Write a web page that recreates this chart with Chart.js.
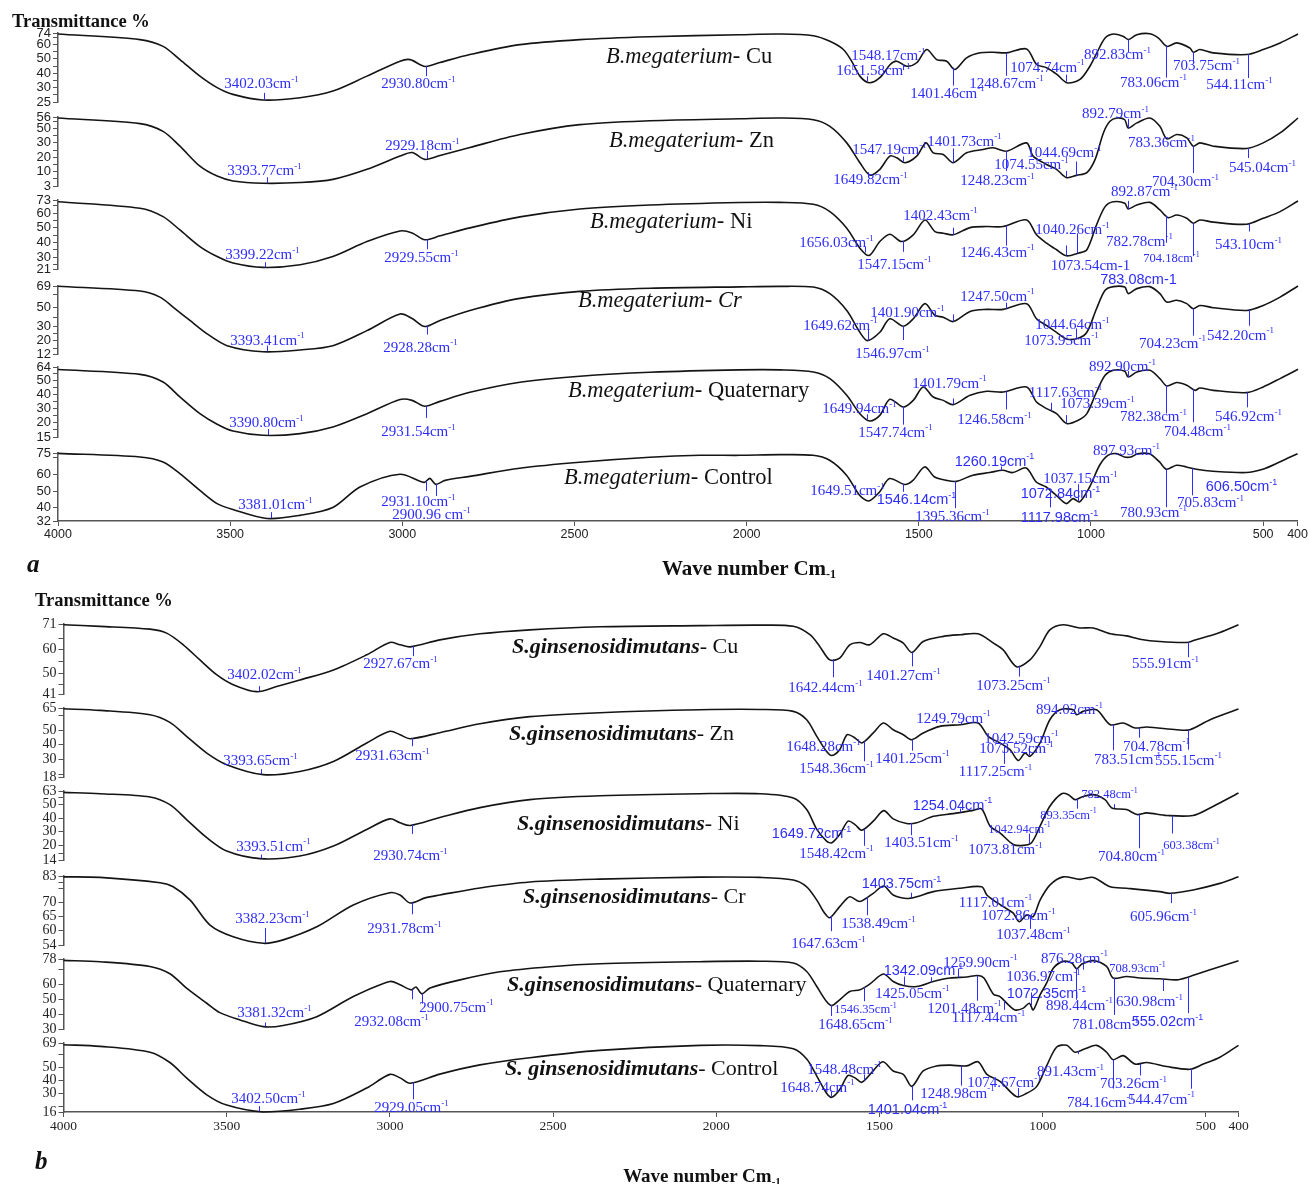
<!DOCTYPE html>
<html>
<head>
<meta charset="utf-8">
<script src="https://cdn.jsdelivr.net/npm/chart.js@4.4.1/dist/chart.umd.min.js"></script>
<style>
  body { margin: 0; width: 1309px; height: 1184px; background: #fff; position: relative; overflow: hidden; }
  canvas { position: absolute; left: 0; }
  .t { position: absolute; white-space: nowrap; font-family: 'Liberation Serif', 'Times New Roman', serif; color: #111; line-height: 1; }
</style>
</head>
<body>
<script>
// ---- panel a : B.megaterium, [wave number, transmittance] ----
const aCu = [[4000,67.3],[3762,63.4],[3695,58.7],[3646,49.5],[3588,38.0],[3538,30.0],[3492,25.3],[3405,21.4],[3297,23.0],[3202,27.6],[3103,38.0],[3007,48.4],[2978,49.5],[2934,44.7],[2891,47.5],[2804,53.0],[2659,59.9],[2485,63.4],[2281,65.4],[2020,66.8],[1904,67.3],[1807,66.1],[1759,62.2],[1720,56.5],[1696,48.4],[1672,38.0],[1645,33.4],[1614,36.9],[1584,46.1],[1565,48.4],[1536,44.9],[1507,47.3],[1478,56.5],[1449,49.5],[1420,48.4],[1396,42.6],[1362,50.7],[1323,54.2],[1285,54.6],[1246,54.2],[1188,56.9],[1159,46.1],[1130,43.8],[1100,39.2],[1071,33.4],[1033,35.7],[1004,44.9],[984,54.2],[960,64.5],[936,67.3],[907,65.6],[892,63.4],[868,66.8],[830,67.5],[805,64.5],[781,58.7],[752,61.1],[714,57.6],[704,54.6],[685,56.5],[646,54.2],[549,53.0],[501,56.5],[452,61.1],[400,67.3]];
const aZn = [[4000,47.3],[3762,43.4],[3695,38.0],[3646,27.7],[3588,13.8],[3538,6.9],[3492,3.5],[3405,1.9],[3297,2.4],[3202,4.6],[3103,11.6],[3007,20.8],[2972,23.3],[2935,18.5],[2891,21.2],[2804,26.8],[2659,35.8],[2485,42.7],[2281,45.4],[2020,46.8],[1904,47.3],[1807,46.1],[1759,41.5],[1710,30.0],[1672,16.2],[1643,7.6],[1614,11.6],[1585,20.8],[1565,19.6],[1541,16.2],[1507,20.8],[1480,30.0],[1459,23.1],[1430,21.9],[1401,16.2],[1362,23.1],[1314,25.4],[1285,26.6],[1246,24.2],[1188,30.0],[1169,20.8],[1130,15.0],[1101,11.6],[1072,5.8],[1043,7.4],[1013,9.3],[989,18.5],[965,36.9],[946,45.0],[926,47.3],[903,46.1],[893,40.4],[868,43.9],[830,47.3],[801,41.5],[781,32.8],[752,35.8],[723,33.5],[704,27.7],[685,30.0],[646,27.7],[549,26.1],[501,30.0],[452,36.9],[400,47.3]];
const aNi = [[4000,67.8],[3762,63.4],[3695,57.7],[3646,48.6],[3588,37.3],[3538,30.5],[3492,26.1],[3405,23.1],[3297,24.9],[3202,30.5],[3103,40.7],[3007,47.9],[2972,46.6],[2935,41.9],[2891,44.6],[2804,50.0],[2659,57.5],[2485,62.9],[2281,65.6],[2020,67.3],[1904,67.4],[1807,66.1],[1759,61.1],[1710,49.8],[1672,36.2],[1645,31.2],[1614,40.7],[1585,45.7],[1551,40.7],[1517,45.3],[1483,55.4],[1454,47.5],[1430,46.4],[1401,45.3],[1352,50.2],[1304,50.9],[1256,50.9],[1188,55.4],[1159,45.3],[1130,39.6],[1101,35.1],[1072,31.0],[1038,32.8],[1013,35.1],[985,52.0],[960,64.5],[936,67.8],[903,66.8],[893,62.9],[868,65.6],[830,67.4],[801,62.2],[777,57.0],[752,58.8],[723,56.6],[704,53.2],[685,55.4],[646,53.9],[549,52.5],[501,56.6],[452,61.1],[400,68.3]];
const aCr = [[4000,68.8],[3762,64.8],[3704,59.7],[3666,51.3],[3617,40.1],[3567,28.9],[3509,19.0],[3405,13.9],[3297,15.4],[3202,19.0],[3103,31.6],[3007,45.5],[2972,41.8],[2935,35.0],[2891,40.1],[2804,48.5],[2659,58.6],[2485,64.5],[2281,67.1],[2020,68.3],[1904,68.7],[1807,68.2],[1759,62.6],[1710,48.5],[1672,30.2],[1650,23.2],[1614,30.2],[1585,41.5],[1546,35.3],[1517,41.5],[1483,54.2],[1454,44.3],[1430,42.9],[1401,39.2],[1352,47.7],[1304,49.4],[1256,49.4],[1188,54.2],[1159,41.5],[1130,35.9],[1101,30.2],[1072,24.6],[1038,25.2],[1013,30.2],[985,49.9],[960,65.4],[936,68.5],[903,68.2],[893,62.6],[868,66.8],[830,68.5],[801,62.6],[781,55.5],[752,57.0],[723,54.2],[704,49.9],[685,52.7],[646,50.8],[549,48.5],[501,52.7],[452,59.7],[400,69.0]];
const aQuat = [[4000,57.7],[3762,54.3],[3695,48.9],[3646,38.3],[3588,26.5],[3538,19.0],[3492,14.2],[3405,11.2],[3297,12.4],[3202,17.1],[3103,26.5],[3007,36.5],[2972,35.9],[2935,31.7],[2891,35.2],[2804,41.6],[2659,48.7],[2485,53.0],[2281,55.8],[2020,57.5],[1904,57.5],[1807,56.0],[1759,51.3],[1710,39.5],[1672,26.5],[1643,21.3],[1614,25.3],[1585,36.7],[1546,31.2],[1517,35.9],[1488,45.4],[1459,38.3],[1430,35.9],[1401,32.9],[1352,39.5],[1304,42.3],[1256,41.8],[1188,45.4],[1159,34.7],[1130,30.1],[1101,26.5],[1072,19.5],[1038,21.8],[1013,26.5],[985,41.8],[960,53.6],[936,57.2],[903,56.5],[893,52.4],[868,56.0],[830,57.2],[801,51.3],[781,46.1],[752,48.5],[723,46.6],[699,43.0],[685,44.6],[646,43.0],[549,41.4],[501,45.4],[452,51.3],[400,57.9]];
const aCtrl = [[4000,72.8],[3762,70.6],[3695,67.6],[3646,60.6],[3588,50.5],[3538,42.5],[3492,38.9],[3393,33.5],[3297,35.4],[3202,40.1],[3123,52.5],[3007,60.2],[2937,55.3],[2920,57.7],[2903,54.1],[2876,56.5],[2804,58.9],[2659,63.8],[2485,67.4],[2281,70.4],[2136,71.6],[2020,71.6],[1904,72.0],[1807,71.6],[1759,68.6],[1710,59.6],[1672,47.5],[1645,44.1],[1614,49.5],[1585,57.6],[1541,54.0],[1517,56.5],[1483,64.6],[1454,58.5],[1420,56.5],[1391,55.9],[1343,59.6],[1294,61.2],[1256,62.6],[1227,61.2],[1188,64.0],[1159,55.5],[1130,52.5],[1101,47.5],[1072,42.5],[1052,45.5],[1033,43.5],[1004,52.5],[975,65.6],[951,71.6],[926,72.6],[903,70.6],[884,70.6],[864,72.6],[830,72.6],[801,67.6],[781,63.2],[752,65.6],[723,64.6],[694,63.2],[646,62.0],[549,61.2],[501,63.2],[452,67.6],[400,72.6]];

// ---- panel b : S.ginsenosidimutans ----
const bCu = [[4000,70.7],[3888,70.0],[3735,68.8],[3684,67.1],[3633,62.1],[3582,55.6],[3531,49.3],[3480,45.0],[3408,42.0],[3347,44.2],[3276,47.0],[3173,51.3],[3071,57.8],[3000,63.1],[2969,62.1],[2938,61.2],[2847,64.2],[2724,66.8],[2571,68.5],[2357,69.8],[2050,70.3],[1866,70.5],[1764,70.0],[1713,66.4],[1683,61.4],[1652,55.6],[1622,56.4],[1591,62.1],[1560,63.1],[1530,62.1],[1488,66.8],[1458,65.0],[1427,62.8],[1401,58.8],[1366,63.5],[1304,65.7],[1253,66.4],[1198,66.8],[1151,62.8],[1121,59.9],[1080,52.7],[1039,55.6],[1008,61.4],[978,68.5],[937,70.7],[886,69.3],[845,69.3],[793,66.8],[743,65.9],[702,64.5],[641,63.5],[559,63.1],[538,63.9],[457,67.4],[400,70.7]];
const bZn = [[4000,64.5],[3888,63.4],[3735,60.4],[3674,55.2],[3623,45.7],[3561,34.3],[3500,26.4],[3388,19.6],[3276,21.8],[3173,28.6],[3071,41.2],[3000,49.1],[2969,46.8],[2938,44.1],[2847,48.2],[2724,54.3],[2571,59.1],[2357,61.8],[2050,63.8],[1866,64.0],[1764,62.7],[1723,57.0],[1692,45.7],[1662,35.4],[1646,32.7],[1622,36.6],[1599,46.8],[1575,44.6],[1554,41.2],[1519,48.0],[1488,54.8],[1458,50.2],[1427,46.8],[1401,43.4],[1366,48.0],[1315,52.5],[1253,53.6],[1198,54.8],[1167,45.7],[1131,41.2],[1100,36.6],[1075,29.3],[1054,34.3],[1039,32.0],[1008,41.2],[978,57.0],[947,63.8],[906,63.8],[896,60.4],[876,62.7],[835,63.8],[793,53.6],[753,54.8],[717,51.4],[681,52.1],[589,50.2],[549,50.2],[487,57.0],[400,64.3]];
const bNi = [[4000,59.0],[3888,58.0],[3735,55.6],[3674,49.9],[3623,38.9],[3561,25.5],[3500,15.6],[3398,10.0],[3276,11.9],[3173,19.3],[3071,31.6],[3000,39.4],[2969,36.5],[2938,34.5],[2847,40.4],[2724,47.7],[2571,53.6],[2357,56.5],[2050,58.0],[1866,58.0],[1764,54.9],[1723,46.3],[1692,31.6],[1662,23.0],[1646,21.8],[1622,27.9],[1596,37.7],[1575,35.2],[1554,31.0],[1519,37.7],[1487,45.5],[1458,39.4],[1417,36.0],[1386,36.5],[1335,41.3],[1274,43.3],[1213,45.7],[1187,46.8],[1161,34.0],[1131,29.1],[1090,20.5],[1059,19.8],[1034,21.8],[1008,34.0],[978,48.7],[942,58.0],[921,57.3],[901,53.6],[880,55.6],[845,57.3],[809,53.6],[788,47.5],[743,46.3],[711,42.6],[681,43.8],[620,41.9],[539,41.9],[487,47.5],[400,58.5]];
const bCr = [[4000,79.0],[3888,78.8],[3704,76.9],[3664,75.5],[3612,70.8],[3551,62.0],[3480,57.9],[3388,55.6],[3327,56.8],[3224,61.4],[3112,69.1],[3000,73.4],[2969,72.6],[2938,69.8],[2892,71.6],[2847,72.6],[2724,75.1],[2571,77.2],[2357,78.2],[2050,78.9],[1866,78.8],[1764,77.9],[1723,75.5],[1692,70.8],[1668,66.2],[1652,64.6],[1622,68.5],[1591,72.0],[1560,70.3],[1519,73.2],[1487,75.8],[1458,72.6],[1417,71.4],[1386,72.0],[1335,73.8],[1253,75.0],[1187,75.5],[1171,72.6],[1151,70.8],[1121,68.5],[1090,66.2],[1072,63.2],[1049,65.6],[1029,65.0],[1008,70.8],[978,76.1],[937,79.0],[886,78.1],[845,78.8],[793,75.5],[743,75.0],[641,73.8],[610,73.2],[539,74.4],[457,76.7],[400,79.0]];
const bQuat = [[4000,76.1],[3888,75.2],[3735,72.0],[3674,67.1],[3623,57.4],[3561,47.3],[3521,41.0],[3459,36.1],[3388,31.6],[3327,32.4],[3224,38.3],[3112,51.8],[3000,61.9],[2969,59.7],[2935,56.3],[2920,58.2],[2902,53.6],[2877,57.6],[2785,63.0],[2663,68.4],[2509,71.8],[2357,73.8],[2050,75.2],[1866,75.5],[1764,74.3],[1723,68.6],[1692,58.5],[1662,48.4],[1646,45.7],[1622,49.6],[1591,55.2],[1560,56.3],[1530,60.1],[1488,66.9],[1458,61.9],[1427,59.2],[1386,58.5],[1335,61.9],[1284,64.2],[1233,64.9],[1198,65.9],[1180,64.2],[1151,53.4],[1131,51.8],[1105,46.2],[1085,42.8],[1059,44.0],[1041,47.3],[1029,42.8],[1008,52.9],[988,60.8],[967,70.9],[937,75.4],[911,74.3],[896,70.5],[880,73.6],[845,75.9],[804,72.0],[784,64.2],[743,65.3],[702,64.2],[641,63.7],[589,63.0],[558,64.6],[487,69.8],[400,75.9]];
const bCtrl = [[4000,67.7],[3888,66.4],[3735,61.9],[3674,54.0],[3623,42.2],[3561,29.2],[3500,21.3],[3388,16.0],[3276,18.1],[3173,22.5],[3071,34.4],[3000,44.9],[2969,42.2],[2938,38.1],[2847,45.1],[2724,52.2],[2571,57.7],[2357,63.3],[2050,67.2],[1866,67.0],[1764,64.6],[1723,56.7],[1692,43.6],[1662,30.4],[1646,27.3],[1622,33.1],[1596,44.1],[1575,42.2],[1554,38.8],[1524,46.2],[1490,54.6],[1458,47.5],[1427,44.9],[1401,35.7],[1366,47.5],[1325,51.4],[1284,52.0],[1233,51.4],[1198,54.6],[1171,44.9],[1131,39.6],[1080,27.8],[1049,30.4],[1018,35.7],[988,51.4],[957,65.9],[926,67.2],[901,61.9],[870,64.6],[835,67.2],[804,61.9],[784,56.2],[753,59.3],[717,52.8],[681,54.0],[620,50.9],[549,48.8],[508,52.8],[457,58.0],[400,67.2]];

// ---- axis ranges and tick labels ----
const xTicks = [4000, 3500, 3000, 2500, 2000, 1500, 1000, 500, 400];
const aRanges = [[20, 68], [0, 48], [22, 69], [12, 69], [10, 59.5], [32, 73]];
const bRanges = [[41, 71], [18, 65], [9, 60], [55, 79.3], [30, 77], [16, 69]];
const aCuTicks = [[68,'74'],[65,''],[60,'60'],[55,''],[50,'50'],[45,''],[40,'40'],[35,''],[30,'30'],[25,''],[20,'25']];
const aZnTicks = [[48,'56'],[45,''],[40,'50'],[35,''],[30,'30'],[25,''],[20,'20'],[15,''],[10,'10'],[5,''],[0,'3']];
const aNiTicks = [[69,'73'],[65,''],[60,'60'],[55,''],[50,'50'],[45,''],[40,'40'],[35,''],[30,'30'],[25,''],[22,'21']];
const aCrTicks = [[69,'69'],[62,''],[51,'50'],[43,''],[35,'30'],[29,''],[23,'20'],[17,''],[12,'12']];
const aQuatTicks = [[59.5,'64'],[55,''],[50,'50'],[45,''],[40,'40'],[35,''],[30,'30'],[25,''],[20,'20'],[15,''],[10,'15']];
const aCtrlTicks = [[73,'75'],[70,''],[60,'60'],[50,'50'],[40,'40'],[32,'32']];
const bCuTicks = [[71,'71'],[65,''],[60,'60'],[55,''],[50,'50'],[45,''],[41,'41']];
const bZnTicks = [[65,'65'],[60,''],[50,'50'],[40,'40'],[30,'30'],[20,''],[18,'18']];
const bNiTicks = [[60,'63'],[55,''],[50,'50'],[40,'40'],[30,'30'],[20,'20'],[14,''],[9,'14']];
const bCrTicks = [[79.3,'83'],[77,''],[75,''],[70,'70'],[65,'65'],[60,'60'],[55,'54']];
const bQuatTicks = [[77,'78'],[70,''],[60,'60'],[50,'50'],[40,'40'],[30,'30']];
const bCtrlTicks = [[69,'69'],[60,''],[50,'50'],[40,'40'],[30,'30'],[20,''],[16,'16']];

// ---- peak labels: [label, dx, dy, line length, style] ----
const aCuPeaks = [['3402.03',-3,-12,-7,''],['2930.80',-8,22,10,''],['1651.58',6,-6,-5,''],['1548.17',-15,-4,6,''],['1401.46',-6,30,18,''],['1248.67',0,35,23,''],['1074.74',-19,-10,-7,''],['892.83',-11,20,13,''],['783.06',-13,41,32,''],['703.75',13,18,9,''],['544.11',-9,35,24,'']];
const aZnPeaks = [['3393.77',-3,-8,-6,''],['2929.18',-5,-9,-8,''],['1649.82',2,12,4,''],['1547.19',-14,-7,-5,''],['1401.73',11,-17,-14,''],['1248.23',-9,34,20,''],['1074.55',-35,-8,-6,''],['1044.69',-12,-18,-14,''],['892.79',-13,-10,-9,''],['783.36',-5,10,0,''],['704.30',-8,40,27,''],['545.04',14,24,10,'']];
const aNiPeaks = [['3399.22',-3,-8,-5,''],['2929.55',-6,23,10,''],['1656.03',-29,-5,-6,''],['1547.15',-9,28,11,''],['1402.43',-13,-15,-7,''],['1246.43',-9,31,20,''],['1040.26',-5,-19,-20,''],['1073.54',24,15,-10,'p'],['892.87',16,-13,-8,''],['782.78',-27,30,27,''],['704.18',-22,39,33,'m'],['543.10',-1,26,8,'']];
const aCrPeaks = [['3393.41',0,-7,-6,''],['2928.28',-7,26,9,''],['1649.62',-28,-11,-12,''],['1546.97',-11,32,14,''],['1401.90',-46,-4,-7,''],['1247.50',-9,-8,-6,''],['1044.64',-4,-9,-10,''],['1073.95',-5,6,0,''],['783.08',-28,-17,0,'ps'],['704.23',-21,39,27,''],['542.20',-9,30,16,'']];
const aQuatPeaks = [['3390.80',-2,-8,-6,''],['2931.54',-8,30,12,''],['1649.94',-8,-6,-5,''],['1547.74',-8,30,18,''],['1401.79',-4,-17,-6,''],['1246.58',-12,33,18,''],['1117.63',14,-14,-8,''],['1073.39',31,-15,-8,''],['892.90',-6,-6,-6,''],['782.38',-13,36,28,''],['704.48',4,47,33,''],['546.92',1,29,15,'']];
const aCtrlPeaks = [['3381.01',4,-9,-6,''],['2931.10',-8,25,10,''],['2900.96 ',-5,35,12,''],['1649.51',-20,-5,0,''],['1546.14',13,20,8,'s'],['1395.36',-3,40,27,''],['1260.19',-7,-5,-4,'s'],['1037.15',2,-18,-17,''],['1072.84',-6,-5,0,'s'],['1117.98',9,32,17,'s'],['897.93',0,-2,0,''],['780.93',-13,48,38,''],['705.83',18,39,27,''],['606.50',15,19,0,'s']];
const bCuPeaks = [['3402.02',5,-12,-5,''],['2927.67',-13,22,10,''],['1642.44',-8,33,18,''],['1401.27',-9,28,14,''],['1073.25',-6,24,11,''],['555.91',-23,26,15,'']];
const bZnPeaks = [['3393.65',-1,-9,-5,''],['2931.63',-20,22,8,''],['1648.28',-8,-4,0,''],['1548.36',-28,32,20,''],['1401.25',0,23,11,''],['1249.79',-8,-2,-3,''],['1042.59',-8,-13,-10,''],['1073.52',-3,-7,0,''],['1117.25',-9,30,18,''],['894.02',-8,0,0,''],['783.51',14,40,26,''],['704.78',17,23,10,''],['555.15',0,35,20,'']];
const bNiPeaks = [['3393.51',12,-8,-4,''],['2930.74',-2,35,9,''],['1649.72',-20,-4,0,'s'],['1548.42',-28,29,17,''],['1403.51',10,24,12,''],['1254.04',-8,-3,-4,'s'],['1042.94',-10,-11,-10,'m'],['1073.81',-14,9,0,''],['893.35',-9,20,10,'m'],['782.48',-5,-10,-4,'m'],['704.80',-8,47,34,''],['603.38',19,34,18,'m']];
const bCrPeaks = [['3382.23',7,-20,-15,''],['2931.78',-8,31,12,''],['1647.63',-3,32,15,''],['1538.49',11,31,18,''],['1403.75',-10,-10,-5,'s'],['1117.01',-9,-1,0,''],['1072.86',-1,-1,0,''],['1037.48',3,23,13,''],['605.96',-8,28,10,'']];
const bQuatPeaks = [['3381.32',9,-9,-4,''],['2932.08',-21,37,10,''],['2900.75',34,18,10,''],['1648.65',24,24,11,''],['1546.35',1,26,14,'m'],['1342.09',-8,-7,-5,'s'],['1425.05',8,12,-9,''],['1259.90',22,-11,-9,''],['1201.48',-13,37,25,''],['1117.44',-16,21,9,''],['1036.97',12,-24,-13,''],['1072.35',27,-11,0,'s'],['876.28',-9,-1,6,''],['898.44',3,42,32,''],['708.93',-1,-6,0,'m'],['781.08',-9,51,37,''],['630.98',-14,27,12,''],['555.02',-21,49,36,'s']];
const bCtrlPeaks = [['3402.50',9,-8,-5,''],['2929.05',-2,30,17,''],['1548.48',-20,-7,-6,''],['1648.74',-14,-5,-5,''],['1401.04',-5,28,14,'s'],['1248.98',-4,32,20,''],['1074.67',-14,-9,-8,''],['891.43',-8,25,3,''],['784.16',-13,47,29,''],['703.26',-7,25,12,''],['544.47',-30,35,20,'']];

const names = ['Cu', 'Zn', 'Ni', 'Cr', 'Quaternary', 'Control'];

// ---- layout ----
const W = 1309;
const aTops = [33.3, 117.3, 200, 285.7, 366.7, 452.7];
const aBottoms = [102.7, 186.7, 269.3, 353.3, 436.7, 521];
const bTops = [624.3, 708.3, 791.3, 876, 959.3, 1042.7];
const bBottoms = [694, 777.3, 860.7, 945, 1029, 1112];
const SERIF = "'Liberation Serif', 'Times New Roman', serif";
const SANS = "'Liberation Sans', Arial, sans-serif";
const BLUE = '#2d2dff';

function interp(pts, wn) {
  for (let i = 0; i < pts.length - 1; i++) {
    const [x0, y0] = pts[i], [x1, y1] = pts[i + 1];
    if (wn <= x0 && wn >= x1) return y0 + (y1 - y0) * (wn - x0) / (x1 - x0);
  }
  return pts[pts.length - 1][1];
}

// blue peak markers and wave number labels
const peakLabels = {
  id: 'peakLabels',
  afterDraw(chart, args, opts) {
    const ctx = chart.ctx, xs = chart.scales.x, ys = chart.scales.y;
    ctx.save();
    ctx.strokeStyle = BLUE;
    ctx.fillStyle = BLUE;
    ctx.lineWidth = 1;
    opts.peaks.forEach(([txt, dx, dy, len, style]) => {
      const wn = parseFloat(txt);
      const px = Math.round(xs.getPixelForValue(wn)) + 0.5;
      const py = ys.getPixelForValue(interp(opts.points, wn));
      if (len) {
        ctx.beginPath();
        ctx.moveTo(px, py);
        ctx.lineTo(px, py + len);
        ctx.stroke();
      }
      const sans = style.includes('s');
      const plain = style.includes('p');
      const size = style.includes('m') ? 12.5 : (sans ? 14.5 : 15);
      const fam = sans ? SANS : SERIF;
      const main = plain ? txt + 'cm-1' : txt + 'cm';
      ctx.font = size + 'px ' + fam;
      const w1 = ctx.measureText(main).width;
      const supFont = Math.round(size * 0.6) + 'px ' + fam;
      let w2 = 0;
      if (!plain) { ctx.font = supFont; w2 = ctx.measureText('-1').width; }
      const x0 = px + dx - (w1 + w2) / 2, by = py + dy;
      ctx.textAlign = 'left';
      ctx.textBaseline = 'alphabetic';
      ctx.font = size + 'px ' + fam;
      ctx.fillText(main, x0, by);
      if (!plain) { ctx.font = supFont; ctx.fillText('-1', x0 + w1, by - size * 0.42); }
    });
    ctx.restore();
  }
};

function addStrip(s) {
  const PAD = 40, xh = s.xAxis ? 20 : 0;
  const top = Math.round(s.top - PAD);
  const plotH = Math.round(s.bottom - s.top);
  const cv = document.createElement('canvas');
  cv.width = W;
  cv.height = plotH + 2 * PAD + xh;
  cv.style.top = top + 'px';
  document.body.appendChild(cv);
  const labelOf = v => { const t = s.ticks.find(p => Math.abs(p[0] - v) < 0.01); return t ? t[1] : ''; };
  new Chart(cv, {
    type: 'line',
    data: {
      datasets: [{
        data: s.points.map(([x, y]) => ({ x, y })),
        borderColor: '#141414', borderWidth: 1.6, pointRadius: 0, tension: 0.3, clip: 6, fill: false
      }]
    },
    options: {
      responsive: false, animation: false, devicePixelRatio: 1,
      layout: { autoPadding: false, padding: { left: s.left - 50, right: W - s.right, top: PAD, bottom: PAD } },
      scales: {
        x: {
          type: 'linear', min: 400, max: 4000, reverse: true, display: !!s.xAxis,
          afterBuildTicks: sc => { sc.ticks = xTicks.map(v => ({ value: v })); },
          afterFit: sc => { sc.height = xh; },
          ticks: { autoSkip: false, maxRotation: 0, padding: 1, color: '#222', font: s.xFont, callback: v => String(v) },
          grid: { drawOnChartArea: false, tickLength: 5, color: '#555' },
          border: { color: '#555', width: 1.5 }
        },
        y: {
          min: s.range[0], max: s.range[1],
          afterBuildTicks: sc => { sc.ticks = s.ticks.map(p => ({ value: p[0] })); },
          afterFit: sc => { sc.width = 50; },
          ticks: { autoSkip: false, padding: 2, color: '#222', font: s.yFont, callback: v => labelOf(v) },
          grid: { drawOnChartArea: false, tickLength: 5, color: '#555' },
          border: { color: '#555', width: 1.5 }
        }
      },
      plugins: {
        legend: { display: false }, tooltip: { enabled: false },
        peakLabels: { peaks: s.peaks, points: s.points }
      }
    },
    plugins: [peakLabels]
  });
}

const aSeries = [aCu, aZn, aNi, aCr, aQuat, aCtrl];
const aTickSets = [aCuTicks, aZnTicks, aNiTicks, aCrTicks, aQuatTicks, aCtrlTicks];
const aPeakSets = [aCuPeaks, aZnPeaks, aNiPeaks, aCrPeaks, aQuatPeaks, aCtrlPeaks];
const bSeries = [bCu, bZn, bNi, bCr, bQuat, bCtrl];
const bTickSets = [bCuTicks, bZnTicks, bNiTicks, bCrTicks, bQuatTicks, bCtrlTicks];
const bPeakSets = [bCuPeaks, bZnPeaks, bNiPeaks, bCrPeaks, bQuatPeaks, bCtrlPeaks];

aSeries.forEach((pts, i) => addStrip({
  points: pts, ticks: aTickSets[i], peaks: aPeakSets[i], range: aRanges[i],
  top: aTops[i], bottom: aBottoms[i], left: 58, right: 1298, xAxis: i === 5,
  yFont: { family: SANS, size: 13 }, xFont: { family: SANS, size: 12.5 }
}));
bSeries.forEach((pts, i) => addStrip({
  points: pts, ticks: bTickSets[i], peaks: bPeakSets[i], range: bRanges[i],
  top: bTops[i], bottom: bBottoms[i], left: 63.5, right: 1238.5, xAxis: i === 5,
  yFont: { family: SERIF, size: 14 }, xFont: { family: SERIF, size: 13.5 }
}));

// ---- plain text: titles, panel letters, sample names ----
function addText(html, x, y, css) {
  const d = document.createElement('div');
  d.className = 't';
  d.innerHTML = html;
  d.style.cssText += 'left:' + x + 'px;top:' + y + 'px;' + css;
  document.body.appendChild(d);
}
addText('Transmittance %', 12, 21, 'font-weight:bold;font-size:18.5px;transform:translateY(-50%);');
addText('Transmittance %', 35, 600, 'font-weight:bold;font-size:18.5px;transform:translateY(-50%);');
addText('a', 27, 563, 'font-weight:bold;font-style:italic;font-size:25px;transform:translateY(-50%);');
addText('b', 35, 1160, 'font-weight:bold;font-style:italic;font-size:25px;transform:translateY(-50%);');
addText('Wave number Cm<span style="font-size:12px;vertical-align:-3px">-1</span>', 749, 569, 'font-weight:bold;font-size:21px;transform:translate(-50%,-50%);');
addText('Wave number Cm<span style="font-size:11px;vertical-align:-3px">-1</span>', 702, 1176, 'font-weight:bold;font-size:19px;transform:translate(-50%,-50%);');

const aNamePos = [[606, 56], [609, 140], [590, 221], [578, 300], [568, 390], [564, 477]];
const bNamePos = [[512, 646], [509, 733], [517, 823], [523, 896], [507, 984], [505, 1068]];
names.forEach((n, i) => {
  const metal = n === 'Cr' ? '<i>Cr</i>' : n;
  addText('<i>B.megaterium</i>- ' + metal, aNamePos[i][0], aNamePos[i][1], 'font-size:22.5px;transform:translateY(-50%);');
  const sp = n === 'Control' ? 'S. ginsenosidimutans' : 'S.ginsenosidimutans';
  addText('<b><i>' + sp + '</i></b>- ' + n, bNamePos[i][0], bNamePos[i][1], 'font-size:22px;transform:translateY(-50%);');
});
</script>
</body>
</html>
